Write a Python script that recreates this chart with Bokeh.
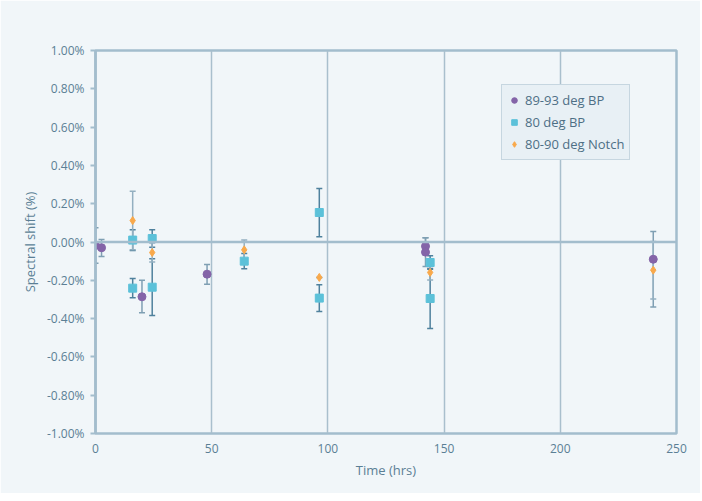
from bokeh.plotting import figure
from bokeh.models import (ColumnDataSource, Whisker, TeeHead, Span, Range1d,
                          FixedTicker, PrintfTickFormatter, Legend, LegendItem)
from bokeh.embed import file_html
from bokeh.resources import INLINE

# ---- data (spectral shift in %) ----
purple_label = "89-93 deg BP"
purple_x = [0, 2.6, 20, 48, 142, 142, 240]
purple_y = [-0.018, -0.030, -0.286, -0.168, -0.022, -0.053, -0.090]
purple_err_up = [0.093, 0.043, 0.086, 0.051, 0.044, 0.075, 0.145]
purple_err_dn = [0.093, 0.046, 0.084, 0.052, 0.044, 0.075, 0.250]

blue_label = "80 deg BP"
blue_x = [16, 16, 24.4, 24.4, 64, 96.3, 96.3, 144, 144]
blue_y = [0.010, -0.241, 0.018, -0.236, -0.100, 0.154, -0.293, -0.107, -0.295]
blue_err = [0.054, 0.050, 0.046, 0.148, 0.040, 0.126, 0.070, 0.035, 0.157]

orange_label = "80-90 deg Notch"
orange_x = [16, 24.4, 64, 96.3, 144, 240]
orange_y = [0.112, -0.055, -0.041, -0.185, -0.159, -0.147]
orange_err = [0.153, 0.050, 0.052, 0.0, 0.040, 0.150]

x_ticks = [0, 50, 100, 150, 200, 250]
y_ticks = [-1.0, -0.8, -0.6, -0.4, -0.2, 0.0, 0.2, 0.4, 0.6, 0.8, 1.0]

TEXT = "#5b7f95"
AXIS = "#a3bdcd"
BG = "#f1f6f9"
FONT = "Open Sans"

p = figure(width=700, height=493, output_backend="svg", toolbar_location=None,
           x_range=Range1d(0, 250), y_range=Range1d(-1, 1),
           min_border_left=95, min_border_right=24, min_border_top=50,
           min_border_bottom=60)
p.background_fill_color = BG
p.border_fill_color = BG
p.outline_line_color = AXIS
p.outline_line_width = 2.5

# axes
p.xaxis.ticker = FixedTicker(ticks=x_ticks)
p.yaxis.ticker = FixedTicker(ticks=y_ticks)
p.yaxis.formatter = PrintfTickFormatter(format="%.2f%%")
for ax in (p.xaxis[0], p.yaxis[0]):
    ax.major_label_text_color = TEXT
    ax.major_label_text_font = FONT
    ax.major_label_text_font_size = "12px"
    ax.axis_label_text_color = TEXT
    ax.axis_label_text_font = FONT
    ax.axis_label_text_font_size = "13px"
    ax.axis_label_text_font_style = "normal"
    ax.minor_tick_line_color = None
    ax.major_tick_in = 0
p.xaxis.axis_label = "Time (hrs)"
p.yaxis.axis_label = "Spectral shift (%)"
p.xaxis.axis_line_color = None
p.xaxis.major_tick_out = 0
p.xaxis.major_label_standoff = 10
p.yaxis.axis_line_color = AXIS
p.yaxis.axis_line_width = 2.5
p.yaxis.major_tick_line_color = AXIS
p.yaxis.major_tick_line_width = 2
p.yaxis.major_tick_out = 5
p.yaxis.major_label_standoff = 6

# grid
p.ygrid.grid_line_color = None
p.xgrid.ticker = FixedTicker(ticks=[50, 100, 150, 200])
p.xgrid.grid_line_color = "#a9bfcd"
p.xgrid.grid_line_width = 1.5
p.add_layout(Span(location=0, dimension="width", line_color=AXIS, line_width=2.5))

# sources
ps = ColumnDataSource(dict(x=purple_x, y=purple_y,
                           up=[a + b for a, b in zip(purple_y, purple_err_up)],
                           lo=[a - b for a, b in zip(purple_y, purple_err_dn)]))
bs = ColumnDataSource(dict(x=blue_x, y=blue_y,
                           up=[a + b for a, b in zip(blue_y, blue_err)],
                           lo=[a - b for a, b in zip(blue_y, blue_err)]))
os_ = ColumnDataSource(dict(x=orange_x, y=orange_y,
                            up=[a + b for a, b in zip(orange_y, orange_err)],
                            lo=[a - b for a, b in zip(orange_y, orange_err)]))

for src, col in ((ps, "#7f9fb3"), (bs, "#4f819d"), (os_, "#93afc0")):
    w = Whisker(source=src, base="x", upper="up", lower="lo",
                line_color=col, line_width=1.5,
                upper_head=TeeHead(size=6, line_color=col, line_width=1.5),
                lower_head=TeeHead(size=6, line_color=col, line_width=1.5))
    p.add_layout(w)

r1 = p.scatter("x", "y", source=ps, marker="circle", size=8,
               fill_color="#8464a8", line_color="#8464a8")
r2 = p.scatter("x", "y", source=bs, marker="square", size=8,
               fill_color="#5cc1d9", line_color="#5cc1d9")
r3 = p.scatter("x", "y", source=os_, marker="diamond", size=8,
               fill_color="#f9a94b", line_color="#f9a94b")

legend = Legend(items=[LegendItem(label=purple_label, renderers=[r1]),
                       LegendItem(label=blue_label, renderers=[r2]),
                       LegendItem(label=orange_label, renderers=[r3])],
                location=(406, 273))
legend.background_fill_color = "#e8f0f5"
legend.background_fill_alpha = 1
legend.border_line_color = "#a3bccb"
legend.border_line_width = 1.5
legend.label_text_color = "#4e6f85"
legend.label_text_font = FONT
legend.label_text_font_size = "13px"
legend.glyph_width = 14
legend.glyph_height = 14
legend.label_height = 20
legend.spacing = 2
legend.padding = 5
legend.margin = 0
legend.label_standoff = 4
p.add_layout(legend, "center")

open("out.html", "w").write(file_html(p, INLINE))
